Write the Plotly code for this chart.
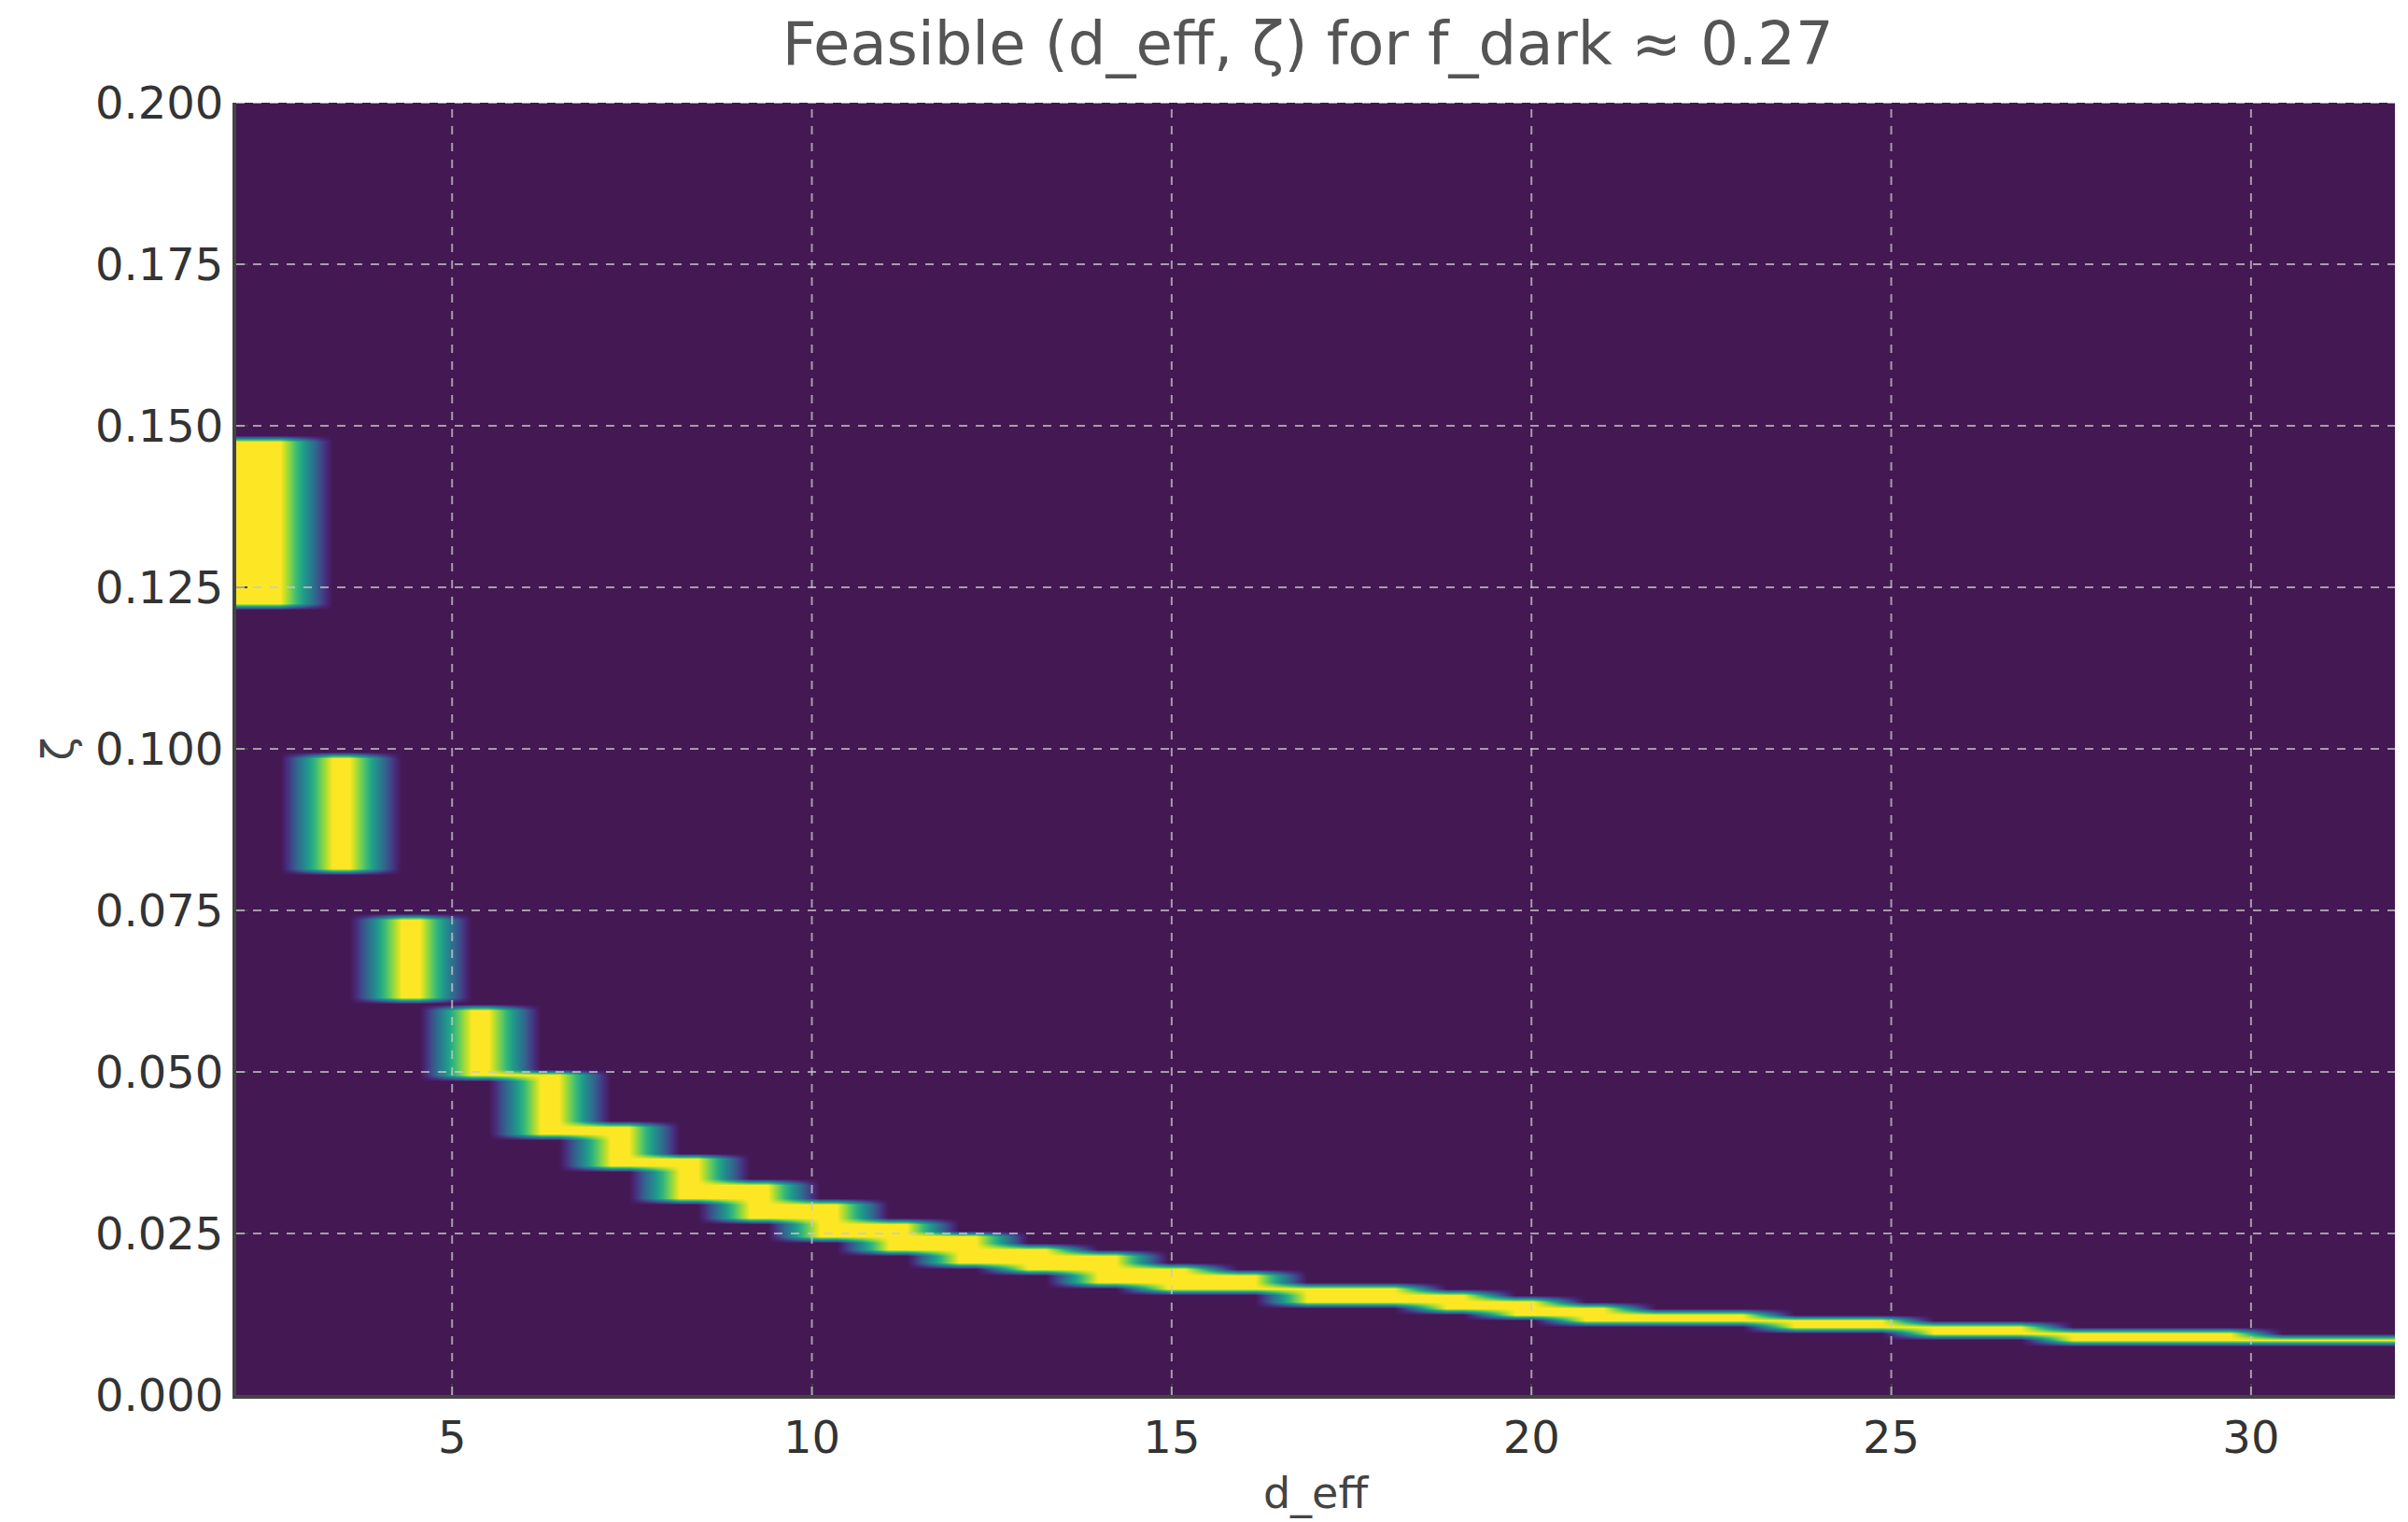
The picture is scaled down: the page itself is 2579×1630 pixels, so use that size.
import numpy as np
import plotly.graph_objects as go
import plotly.colors as pc

# feasible zeta band read per d_eff column
d_eff = list(range(2, 33))
zeta_lo = [0.1216, 0.081, 0.0611, 0.0486, 0.0405, 0.0351, 0.0304, 0.0273, 0.0242, 0.0224,
           0.0205, 0.019, 0.0174, 0.016, 0.0159, 0.0144, 0.0137, 0.0132, 0.0125, 0.0115,
           0.011, 0.0108, 0.0103, 0.0096, 0.0093, 0.0089, 0.0084, 0.0084, 0.0081, 0.0081, 0.0081]
zeta_hi = [0.148, 0.099, 0.0742, 0.0596, 0.0499, 0.0422, 0.0372, 0.033, 0.0299, 0.0273,
           0.0249, 0.0231, 0.0216, 0.02, 0.0188, 0.0173, 0.0166, 0.0159, 0.0149, 0.014,
           0.0132, 0.0125, 0.0122, 0.012, 0.0113, 0.0108, 0.0103, 0.0101, 0.0098, 0.0093, 0.0093]
x_ticks = [5, 10, 15, 20, 25, 30]
y_ticks = [0.0, 0.025, 0.05, 0.075, 0.1, 0.125, 0.15, 0.175, 0.2]

n = len(d_eff)
k = 4  # sub-columns per column; then blur a little like matplotlib's resampling
x_c = 2 + (np.arange(n * k) + 0.5) * 30 / (n * k)   # imshow-style extent [2, 32]
y_c = (np.arange(200) + 0.5) * 0.001
lo = np.repeat(zeta_lo, k)
hi = np.repeat(zeta_hi, k)
mask = ((y_c[:, None] >= lo[None, :]) & (y_c[:, None] <= hi[None, :])).astype(float)
pad = np.pad(mask, ((0, 0), (1, 1)), mode="edge")
mask = (pad[:, :-2] + pad[:, 1:-1] + pad[:, 2:]) / 3

vir = list(pc.sequential.Viridis)
vir[0] = "#431853"
cscale = [[i / (len(vir) - 1), c] for i, c in enumerate(vir)]

fig = go.Figure(go.Heatmap(x=x_c, y=y_c, z=mask, colorscale=cscale, zsmooth="best",
                           showscale=False, zmin=0, zmax=1))

grid = dict(color="rgba(200,200,200,0.75)", width=2, dash="dash")
for v in x_ticks:
    fig.add_shape(type="line", x0=v, x1=v, y0=0, y1=0.2, xref="x", yref="y", line=grid, layer="above")
for v in y_ticks[1:]:
    fig.add_shape(type="line", x0=2, x1=32, y0=v, y1=v, xref="x", yref="y", line=grid, layer="above")

axis_font = dict(family="DejaVu Sans", size=48, color="#333333")
fig.update_layout(
    width=2579, height=1630,
    margin=dict(l=245, r=22, t=102, b=144),
    paper_bgcolor="white", plot_bgcolor="white",
    font=dict(family="DejaVu Sans", color="#444444"),
    title=dict(text="Feasible (d_eff, ζ) for f_dark ≈ 0.27", x=0.54, xanchor="center",
               y=0.99, yanchor="top", font=dict(size=64, color="#555555")),
    xaxis=dict(range=[2, 32], tickvals=x_ticks, showgrid=False, zeroline=False,
               ticks="inside", ticklen=12, tickwidth=2, tickcolor="#444444",
               showline=True, linewidth=4, linecolor="#444444", tickfont=axis_font,
               title=dict(text="d_eff", font=dict(size=46, color="#444444"), standoff=18)),
    yaxis=dict(range=[0, 0.2], tickvals=y_ticks, tickformat=".3f", showgrid=False, zeroline=False,
               ticks="inside", ticklen=12, tickwidth=2, tickcolor="#444444",
               showline=True, linewidth=4, linecolor="#444444", tickfont=axis_font,
               title=dict(text="ζ", font=dict(size=46, color="#444444"), standoff=10)),
)

fig.write_html("out.html")
